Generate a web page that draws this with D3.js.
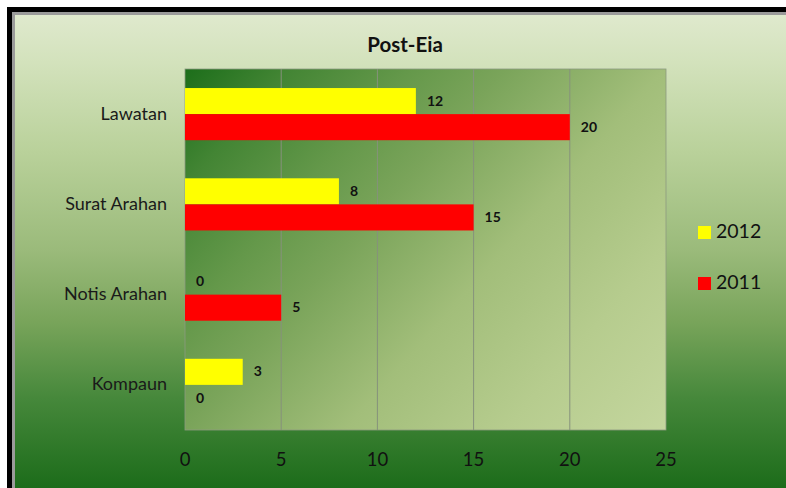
<!DOCTYPE html>
<html><head><meta charset="utf-8">
<script src="https://cdn.jsdelivr.net/npm/d3@7"></script>
<style>html,body{margin:0;padding:0;background:#fff;}svg{display:block;}</style>
</head><body>
<script>
const categories = ["Lawatan", "Surat Arahan", "Notis Arahan", "Kompaun"];
const seriesNames = ["2012", "2011"];
const values2012 = [12, 8, 0, 3];
const values2011 = [20, 15, 5, 0];
const xTicks = [0, 5, 10, 15, 20, 25];
const colors = {"2012": "#ffff00", "2011": "#ff0000"};
const title = "Post-Eia";

(function(){
const W = 786, H = 488;
const svg = d3.select("body").append("svg").attr("width", W).attr("height", H);
const defs = svg.append("defs");

const bg = defs.append("linearGradient").attr("id","bg").attr("x1",0).attr("y1",0).attr("x2",0).attr("y2",1);
[[0,"#dfe9cd"],[0.1,"#d3e2bc"],[0.29,"#b9d19a"],[0.5,"#9aba7a"],[0.65,"#78a45a"],[0.81,"#46883b"],[1,"#1c6c1a"]]
  .forEach(s=>bg.append("stop").attr("offset",s[0]).attr("stop-color",s[1]));

const pl = 185, pr = 666, pt = 69, pb = 430;

const pg = defs.append("linearGradient").attr("id","pg").attr("gradientUnits","userSpaceOnUse")
  .attr("x1",pl).attr("y1",pt).attr("x2",632).attr("y2",466);
[[0,"#1c6e1a"],[0.13,"#438534"],[0.28,"#64984a"],[0.4,"#7aa45a"],[0.6,"#a2be7a"],[0.8,"#b6cc8e"],[1,"#c4d69e"]]
  .forEach(s=>pg.append("stop").attr("offset",s[0]).attr("stop-color",s[1]));

svg.append("rect").attr("x",7).attr("y",7).attr("width",W-7).attr("height",H-7).attr("fill","#000");
svg.append("rect").attr("x",12).attr("y",12).attr("width",W-12).attr("height",H-12).attr("fill","#9a9a9a");
svg.append("rect").attr("x",15).attr("y",15).attr("width",W-15).attr("height",H-15).attr("fill","url(#bg)");

const x = d3.scaleLinear().domain([0,25]).range([pl,pr]);
const y = d3.scaleBand().domain(categories).range([pt,pb]).paddingInner(0.422).paddingOuter(0.211);
const ys = d3.scaleBand().domain(seriesNames).range([0,y.bandwidth()]);

svg.append("rect").attr("x",pl).attr("y",pt).attr("width",pr-pl).attr("height",pb-pt)
  .attr("fill","url(#pg)").attr("stroke","#8c9a80").attr("stroke-width",0.8);

svg.append("g").selectAll("line").data(xTicks.slice(1,-1)).join("line")
  .attr("x1",d=>x(d)).attr("x2",d=>x(d)).attr("y1",pt).attr("y2",pb)
  .attr("stroke","#86927c").attr("stroke-width",1);

const font = "Lato, 'Open Sans', sans-serif";

svg.append("text").attr("x",405).attr("y",52).attr("text-anchor","middle")
  .attr("font-family",font).attr("font-weight","bold").attr("font-size",20.5).attr("fill","#111").text(title);

const data = [];
categories.forEach((c,i)=>{
  data.push({cat:c, s:"2012", v:values2012[i]});
  data.push({cat:c, s:"2011", v:values2011[i]});
});

svg.append("g").selectAll("rect").data(data).join("rect")
  .attr("x",x(0)).attr("y",d=>y(d.cat)+ys(d.s)).attr("width",d=>x(d.v)-x(0)).attr("height",ys.bandwidth())
  .attr("fill",d=>colors[d.s]);

svg.append("g").selectAll("text").data(data).join("text")
  .attr("x",d=>x(d.v)+11).attr("y",d=>y(d.cat)+ys(d.s)+ys.bandwidth()/2+1)
  .attr("dominant-baseline","middle")
  .attr("font-family",font).attr("font-weight","bold").attr("font-size",14).attr("fill","#111")
  .text(d=>d.v);

svg.append("g").selectAll("text").data(categories).join("text")
  .attr("x",167).attr("y",d=>y(d)+y.bandwidth()/2+1).attr("text-anchor","end").attr("dominant-baseline","middle")
  .attr("font-family",font).attr("font-size",18).attr("fill","#1a1a1a").text(d=>d);

svg.append("g").selectAll("text").data(xTicks).join("text")
  .attr("x",d=>x(d)).attr("y",466).attr("text-anchor","middle")
  .attr("font-family",font).attr("font-size",18.5).attr("fill","#111").text(d=>d);

const leg = svg.append("g").selectAll("g").data(seriesNames).join("g")
  .attr("transform",(d,i)=>`translate(698,${226+i*51})`);
leg.append("rect").attr("width",13).attr("height",13).attr("fill",d=>colors[d]);
leg.append("text").attr("x",18).attr("y",7).attr("dominant-baseline","middle")
  .attr("font-family",font).attr("font-size",19.5).attr("fill","#111").text(d=>d);
})();
</script>
</body></html>
